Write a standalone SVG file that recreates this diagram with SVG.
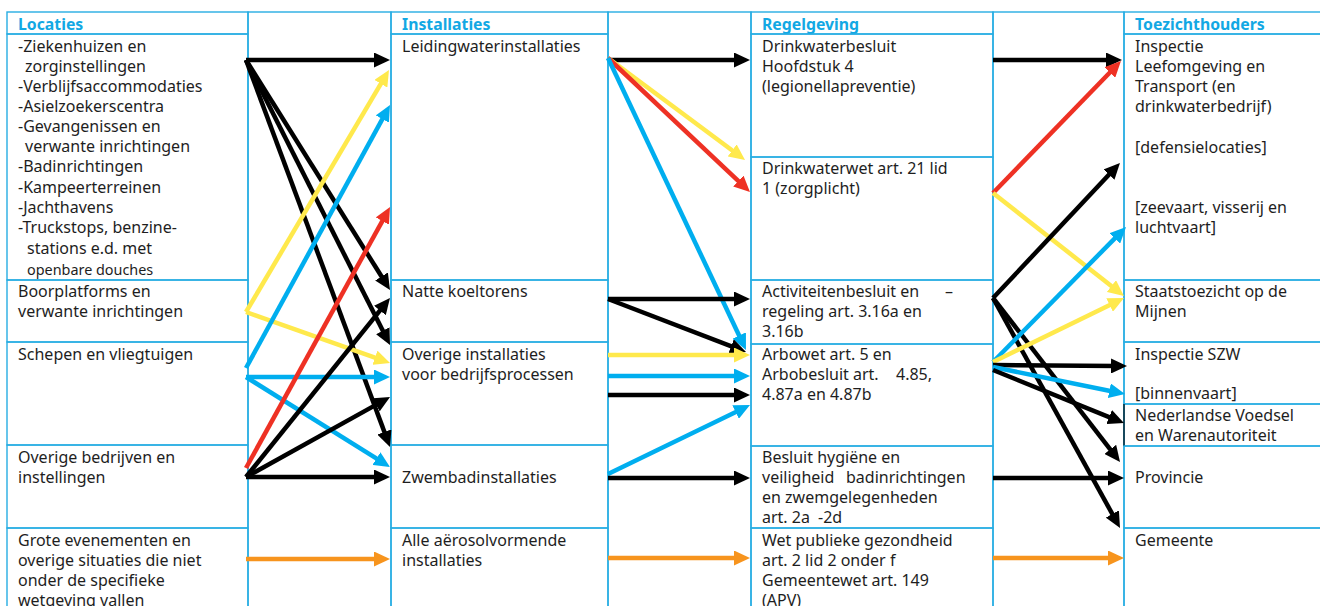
<svg xmlns="http://www.w3.org/2000/svg" width="1320" height="606" viewBox="0 0 1320 606">
<style>
.cell{fill:none;stroke:#27ADE3;stroke-width:1.4}
.t{font-family:"Noto Sans","Open Sans","Liberation Sans",sans-serif;font-size:16px;fill:#1e1e1e}
.s{font-size:14.4px}
.h{font-family:"Noto Sans","Open Sans","Liberation Sans",sans-serif;font-size:15.8px;font-weight:bold;fill:#12A8E4}
.a{fill:none;stroke-width:4.5;stroke-linecap:butt}
.k{stroke:#000}.y{stroke:#FFE94C}.b{stroke:#00AEEF}.r{stroke:#EE3124}.o{stroke:#F7941D}
</style>
<defs>
<marker id="mk" markerUnits="userSpaceOnUse" markerWidth="16" markerHeight="15" refX="6" refY="7.5" orient="auto"><path d="M0,0 L16,7.5 L0,15 z" fill="#000"/></marker>
<marker id="my" markerUnits="userSpaceOnUse" markerWidth="16" markerHeight="15" refX="6" refY="7.5" orient="auto"><path d="M0,0 L16,7.5 L0,15 z" fill="#FFE94C"/></marker>
<marker id="mb" markerUnits="userSpaceOnUse" markerWidth="16" markerHeight="15" refX="6" refY="7.5" orient="auto"><path d="M0,0 L16,7.5 L0,15 z" fill="#00AEEF"/></marker>
<marker id="mr" markerUnits="userSpaceOnUse" markerWidth="16" markerHeight="15" refX="6" refY="7.5" orient="auto"><path d="M0,0 L16,7.5 L0,15 z" fill="#EE3124"/></marker>
<marker id="mo" markerUnits="userSpaceOnUse" markerWidth="16" markerHeight="15" refX="6" refY="7.5" orient="auto"><path d="M0,0 L16,7.5 L0,15 z" fill="#F7941D"/></marker>
</defs>
<rect width="1320" height="606" fill="#fff"/>

<!-- gap columns -->
<g id="gaps">
<rect class="cell" x="248" y="12" width="143" height="620"/>
<rect class="cell" x="608" y="12" width="143" height="620"/>
<rect class="cell" x="993" y="12" width="131" height="620"/>
</g>

<!-- Column 1: Locaties -->
<g id="col-locaties">
<g id="h-locaties"><rect class="cell" x="7" y="12" width="241" height="22"/><text class="h" x="18" y="30">Locaties</text></g>
<g id="loc-1"><rect class="cell" x="7" y="34" width="241" height="246"/>
<text class="t" x="18" y="52">-Ziekenhuizen en</text>
<text class="t" x="25" y="72">zorginstellingen</text>
<text class="t" x="18" y="92">-Verblijfsaccommodaties</text>
<text class="t" x="18" y="112">-Asielzoekerscentra</text>
<text class="t" x="18" y="132">-Gevangenissen en</text>
<text class="t" x="25" y="152">verwante inrichtingen</text>
<text class="t" x="18" y="172">-Badinrichtingen</text>
<text class="t" x="18" y="193">-Kampeerterreinen</text>
<text class="t" x="18" y="213">-Jachthavens</text>
<text class="t" x="18" y="233">-Truckstops, benzine-</text>
<text class="t" x="27" y="254">stations e.d. met</text>
<text class="t s" x="27" y="275">openbare douches</text>
</g>
<g id="loc-2"><rect class="cell" x="7" y="280" width="241" height="62"/>
<text class="t" x="18" y="297">Boorplatforms en</text>
<text class="t" x="18" y="317">verwante inrichtingen</text></g>
<g id="loc-3"><rect class="cell" x="7" y="342" width="241" height="103"/>
<text class="t" x="18" y="360">Schepen en vliegtuigen</text></g>
<g id="loc-4"><rect class="cell" x="7" y="445" width="241" height="83"/>
<text class="t" x="18" y="463">Overige bedrijven en</text>
<text class="t" x="18" y="483">instellingen</text></g>
<g id="loc-5"><rect class="cell" x="7" y="528" width="241" height="100"/>
<text class="t" x="18" y="546">Grote evenementen en</text>
<text class="t" x="18" y="566">overige situaties die niet</text>
<text class="t" x="18" y="586">onder de specifieke</text>
<text class="t" x="18" y="606">wetgeving vallen</text></g>
</g>

<!-- Column 2: Installaties -->
<g id="col-installaties">
<g id="h-installaties"><rect class="cell" x="391" y="12" width="217" height="22"/><text class="h" x="402" y="30">Installaties</text></g>
<g id="ins-1"><rect class="cell" x="391" y="34" width="217" height="246"/>
<text class="t" x="402" y="52">Leidingwaterinstallaties</text></g>
<g id="ins-2"><rect class="cell" x="391" y="280" width="217" height="62"/>
<text class="t" x="402" y="297">Natte koeltorens</text></g>
<g id="ins-3"><rect class="cell" x="391" y="342" width="217" height="103"/>
<text class="t" x="402" y="360">Overige installaties</text>
<text class="t" x="402" y="380">voor bedrijfsprocessen</text></g>
<g id="ins-4"><rect class="cell" x="391" y="445" width="217" height="83"/>
<text class="t" x="402" y="483">Zwembadinstallaties</text></g>
<g id="ins-5"><rect class="cell" x="391" y="528" width="217" height="100"/>
<text class="t" x="402" y="546">Alle aërosolvormende</text>
<text class="t" x="402" y="566">installaties</text></g>
</g>

<!-- Column 3: Regelgeving -->
<g id="col-regelgeving">
<g id="h-regelgeving"><rect class="cell" x="751" y="12" width="242" height="22"/><text class="h" x="762" y="30">Regelgeving</text></g>
<g id="reg-1"><rect class="cell" x="751" y="34" width="242" height="123"/>
<text class="t" x="762" y="52">Drinkwaterbesluit</text>
<text class="t" x="762" y="72">Hoofdstuk 4</text>
<text class="t" x="762" y="92">(legionellapreventie)</text></g>
<g id="reg-2"><rect class="cell" x="751" y="157" width="242" height="123"/>
<text class="t" x="762" y="174">Drinkwaterwet art. 21 lid</text>
<text class="t" x="762" y="194">1 (zorgplicht)</text></g>
<g id="reg-3"><rect class="cell" x="751" y="280" width="242" height="64"/>
<text class="t" x="762" y="297">Activiteitenbesluit en</text>
<text class="t" x="945" y="297">–</text>
<text class="t" x="762" y="317">regeling art. 3.16a en</text>
<text class="t" x="762" y="337">3.16b</text></g>
<g id="reg-4"><rect class="cell" x="751" y="344" width="242" height="102"/>
<text class="t" x="762" y="360">Arbowet art. 5 en</text>
<text class="t" x="762" y="380">Arbobesluit art.</text>
<text class="t" x="896" y="380">4.85,</text>
<text class="t" x="762" y="400">4.87a en 4.87b</text></g>
<g id="reg-5"><rect class="cell" x="751" y="446" width="242" height="82"/>
<text class="t" x="762" y="463">Besluit hygiëne en</text>
<text class="t" x="762" y="483">veiligheid</text>
<text class="t" x="846" y="483">badinrichtingen</text>
<text class="t" x="762" y="503">en zwemgelegenheden</text>
<text class="t" x="762" y="523">art. 2a</text>
<text class="t" x="818" y="523">-2d</text></g>
<g id="reg-6"><rect class="cell" x="751" y="528" width="242" height="100"/>
<text class="t" x="762" y="546">Wet publieke gezondheid</text>
<text class="t" x="762" y="566">art. 2 lid 2 onder f</text>
<text class="t" x="762" y="586">Gemeentewet art. 149</text>
<text class="t" x="762" y="606">(APV)</text></g>
</g>

<!-- Column 4: Toezichthouders -->
<g id="col-toezicht">
<g id="h-toezicht"><rect class="cell" x="1124" y="12" width="210" height="22"/><text class="h" x="1135" y="30">Toezichthouders</text></g>
<g id="tz-1"><rect class="cell" x="1124" y="34" width="210" height="246"/>
<text class="t" x="1135" y="52">Inspectie</text>
<text class="t" x="1135" y="72">Leefomgeving en</text>
<text class="t" x="1135" y="92">Transport (en</text>
<text class="t" x="1135" y="112">drinkwaterbedrijf)</text>
<text class="t" x="1135" y="153">[defensielocaties]</text>
<text class="t" x="1135" y="213">[zeevaart, visserij en</text>
<text class="t" x="1135" y="233">luchtvaart]</text></g>
<g id="tz-2"><rect class="cell" x="1124" y="280" width="210" height="62"/>
<text class="t" x="1135" y="297">Staatstoezicht op de</text>
<text class="t" x="1135" y="317">Mijnen</text></g>
<g id="tz-3"><rect class="cell" x="1124" y="342" width="210" height="62"/>
<text class="t" x="1135" y="360">Inspectie SZW</text>
<text class="t" x="1135" y="399">[binnenvaart]</text></g>
<g id="tz-4"><rect class="cell" x="1124" y="404" width="210" height="42"/>
<line x1="1124" y1="404" x2="1124" y2="446" stroke="#000" stroke-width="1.2"/>
<text class="t" x="1135" y="421">Nederlandse Voedsel</text>
<text class="t" x="1135" y="441">en Warenautoriteit</text></g>
<g id="tz-5"><rect class="cell" x="1124" y="446" width="210" height="82"/>
<text class="t" x="1135" y="483">Provincie</text></g>
<g id="tz-6"><rect class="cell" x="1124" y="528" width="210" height="100"/>
<text class="t" x="1135" y="546">Gemeente</text></g>
</g>

<!-- Connectors -->
<g id="connectors">
<!-- gap 1 -->
<line class="a k" x1="246" y1="60" x2="380" y2="60" marker-end="url(#mk)"/>
<line class="a k" x1="246" y1="60" x2="384.7" y2="281.5" marker-end="url(#mk)"/>
<line class="a k" x1="246" y1="60" x2="385.5" y2="336.1" marker-end="url(#mk)"/>
<line class="a k" x1="246" y1="60" x2="386.5" y2="437.6" marker-end="url(#mk)"/>
<line class="a y" x1="246" y1="312" x2="383.9" y2="78.6" marker-end="url(#my)"/>
<line class="a y" x1="246" y1="312" x2="380.6" y2="359.7" marker-end="url(#my)"/>
<line class="a b" x1="246" y1="368" x2="385.2" y2="113.8" marker-end="url(#mb)"/>
<line class="a b" x1="246" y1="377" x2="380" y2="377" marker-end="url(#mb)"/>
<line class="a b" x1="246" y1="377" x2="381.5" y2="461.7" marker-end="url(#mb)"/>
<line class="a r" x1="246" y1="468" x2="385.2" y2="215.8" marker-end="url(#mr)"/>
<line class="a k" x1="246" y1="477" x2="383.7" y2="305.8" marker-end="url(#mk)"/>
<line class="a k" x1="246" y1="477" x2="381.3" y2="401.9" marker-end="url(#mk)"/>
<line class="a k" x1="246" y1="477" x2="380" y2="477" marker-end="url(#mk)"/>
<line class="a o" x1="246" y1="559" x2="380" y2="559" marker-end="url(#mo)"/>
<!-- gap 2 -->
<line class="a k" x1="608" y1="60" x2="740" y2="60" marker-end="url(#mk)"/>
<line class="a y" x1="608" y1="58" x2="737" y2="154" marker-end="url(#my)"/>
<line class="a r" x1="608" y1="58" x2="742.7" y2="185.1" marker-end="url(#mr)"/>
<line class="a b" x1="608" y1="58" x2="741.7" y2="341" marker-end="url(#mb)"/>
<line class="a k" x1="608" y1="299" x2="740" y2="299" marker-end="url(#mk)"/>
<line class="a k" x1="608" y1="299" x2="736.7" y2="348.4" marker-end="url(#mk)"/>
<line class="a y" x1="608" y1="355" x2="740" y2="355" marker-end="url(#my)"/>
<line class="a b" x1="608" y1="376" x2="740" y2="376" marker-end="url(#mb)"/>
<line class="a k" x1="608" y1="395" x2="740" y2="395" marker-end="url(#mk)"/>
<line class="a b" x1="608" y1="474" x2="741" y2="409.4" marker-end="url(#mb)"/>
<line class="a k" x1="608" y1="478" x2="740" y2="478" marker-end="url(#mk)"/>
<line class="a o" x1="608" y1="558" x2="740" y2="558" marker-end="url(#mo)"/>
<!-- gap 3 -->
<line class="a k" x1="993" y1="60" x2="1112" y2="60" marker-end="url(#mk)"/>
<line class="a r" x1="993" y1="193" x2="1114" y2="68.2" marker-end="url(#mr)"/>
<line class="a y" x1="993" y1="193" x2="1116.1" y2="289.8" marker-end="url(#my)"/>
<line class="a k" x1="993" y1="298" x2="1113.1" y2="170.3" marker-end="url(#mk)"/>
<line class="a k" x1="993" y1="298" x2="1113.9" y2="454.1" marker-end="url(#mk)"/>
<line class="a k" x1="993" y1="298" x2="1115.2" y2="519.2" marker-end="url(#mk)"/>
<line class="a b" x1="993" y1="362" x2="1119" y2="234.1" marker-end="url(#mb)"/>
<line class="a y" x1="993" y1="362" x2="1115" y2="302.4" marker-end="url(#my)"/>
<line class="a k" x1="993" y1="365" x2="1117" y2="366" marker-end="url(#mk)"/>
<line class="a b" x1="993" y1="367" x2="1115.2" y2="392" marker-end="url(#mb)"/>
<line class="a k" x1="993" y1="370" x2="1114.7" y2="419.3" marker-end="url(#mk)"/>
<line class="a k" x1="993" y1="478" x2="1114" y2="478" marker-end="url(#mk)"/>
<line class="a o" x1="993" y1="558" x2="1114" y2="558" marker-end="url(#mo)"/>
</g>
</svg>
